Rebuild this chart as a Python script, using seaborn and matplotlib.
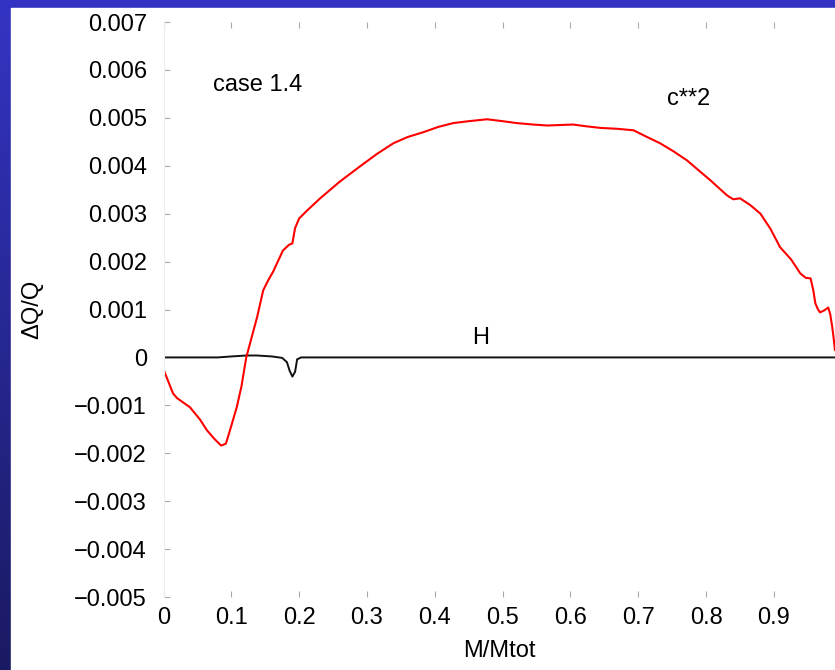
import numpy as np
import pandas as pd
import matplotlib
matplotlib.use("Agg")
import matplotlib.pyplot as plt
import seaborn as sns
from matplotlib.patches import Rectangle

# ---- data ----
c2_x = [0.0, 0.014, 0.02, 0.039, 0.054, 0.064, 0.075, 0.085, 0.092, 0.098, 0.108, 0.115,
        0.122, 0.13, 0.138, 0.147, 0.154, 0.162, 0.176, 0.185, 0.19, 0.194, 0.2, 0.212,
        0.231, 0.26, 0.29, 0.315, 0.339, 0.36, 0.383, 0.405, 0.427, 0.45, 0.477, 0.5,
        0.521, 0.545, 0.566, 0.585, 0.604, 0.625, 0.644, 0.67, 0.693, 0.71, 0.732, 0.752,
        0.772, 0.791, 0.806, 0.82, 0.831, 0.84, 0.85, 0.865, 0.88, 0.895, 0.909, 0.925,
        0.939, 0.947, 0.954, 0.958, 0.961, 0.965, 0.968, 0.974, 0.98, 0.983, 0.986, 0.988, 0.99]
c2_y = [-0.00025, -0.00075, -0.00085, -0.00104, -0.0013, -0.00152, -0.0017, -0.00184, -0.0018, -0.00152, -0.00104, -0.0006,
        0.0, 0.00042, 0.00084, 0.0014, 0.0016, 0.0018, 0.00223, 0.00235, 0.00238, 0.0027, 0.0029, 0.00307,
        0.00332, 0.00367, 0.00399, 0.00425, 0.00447, 0.0046, 0.0047, 0.00481, 0.00489, 0.00493, 0.00497, 0.00493,
        0.00489, 0.00486, 0.00484, 0.00485, 0.00486, 0.00482, 0.00479, 0.00477, 0.00474, 0.00462, 0.00447, 0.0043,
        0.00411, 0.00388, 0.0037, 0.00352, 0.00338, 0.0033, 0.00332, 0.00318, 0.003, 0.00268, 0.0023, 0.00205,
        0.00175, 0.00166, 0.00165, 0.0014, 0.00113, 0.001, 0.00094, 0.00098, 0.00104, 0.0009, 0.00063, 0.0004, 0.00015]

h_x = [0.0, 0.08, 0.1, 0.122, 0.138, 0.16, 0.175, 0.182, 0.186, 0.19, 0.194, 0.197, 0.203, 0.3, 0.99]
h_y = [0.0, 0.0, 0.00002, 0.00004, 0.00004, 0.00002, -0.00001, -0.0001, -0.00028, -0.0004, -0.0003, -0.00004, 0.0, 0.0, 0.0]

x_ticks = [0.0, 0.1, 0.2, 0.3, 0.4, 0.5, 0.6, 0.7, 0.8, 0.9]
x_labels = ["0", "0.1", "0.2", "0.3", "0.4", "0.5", "0.6", "0.7", "0.8", "0.9"]
y_ticks = [-0.005, -0.004, -0.003, -0.002, -0.001, 0.0, 0.001, 0.002, 0.003, 0.004, 0.005, 0.006, 0.007]
y_labels = ["\u22120.005", "\u22120.004", "\u22120.003", "\u22120.002", "\u22120.001", "0",
            "0.001", "0.002", "0.003", "0.004", "0.005", "0.006", "0.007"]

sns.set_theme(style="white")
plt.rcParams["font.family"] = ["Liberation Sans", "DejaVu Sans"]

FS = 17
W, H = 835, 670
fig = plt.figure(figsize=(W / 100, H / 100), dpi=100)

# slide background: blue gradient with white panel
bg = fig.add_axes([0, 0, 1, 1], zorder=-10)
top = np.array([0x34, 0x34, 0xC4]) / 255
bot = np.array([0x1A, 0x1A, 0x62]) / 255
t = np.linspace(0, 1, 256)[:, None, None]
grad = (top[None, None, :] * (1 - t) + bot[None, None, :] * t) * np.ones((1, 2, 1))
bg.imshow(grad, aspect="auto", extent=[0, 1, 0, 1])
bg.add_patch(Rectangle((11 / W, 0), 1, 1 - 8 / H, color="white", transform=bg.transAxes))
bg.set_xlim(0, 1); bg.set_ylim(0, 1)
bg.axis("off")

ax = fig.add_axes([163.5 / W, 1 - 597 / H, (W - 163.5) / W, (597 - 22) / H])
ax.set_facecolor("none")

df_c2 = pd.DataFrame({"x": c2_x, "y": c2_y})
df_h = pd.DataFrame({"x": h_x, "y": h_y})
sns.lineplot(data=df_h, x="x", y="y", ax=ax, color="#111111", linewidth=1.4, sort=False)
sns.lineplot(data=df_c2, x="x", y="y", ax=ax, color="#ff0000", linewidth=1.5, sort=False)

ax.set_xlim(0, 0.99)
ax.set_ylim(-0.005, 0.007)
ax.set_xticks(x_ticks)
ax.set_xticklabels(x_labels)
ax.set_yticks(y_ticks)
ax.set_yticklabels(y_labels)
ax.tick_params(axis="both", which="both", direction="in", length=4, width=0.8,
               color="#aaaaaa", labelsize=FS, labelcolor="black")
ax.tick_params(axis="x", top=True, bottom=True, pad=7)
ax.tick_params(axis="y", left=True, right=False, pad=12)
for s in ["top", "right", "bottom"]:
    ax.spines[s].set_visible(False)
ax.spines["left"].set_color("#eeeeee")
ax.spines["left"].set_linewidth(0.8)

ax.set_xlabel("M/Mtot", fontsize=FS, color="black", labelpad=8)
ax.set_ylabel("\u0394Q/Q", fontsize=FS, color="black", labelpad=22)

ax.text(0.073, 0.00568, "case 1.4", fontsize=FS, ha="left", va="center", color="black")
ax.text(0.742, 0.0054, "c**2", fontsize=FS, ha="left", va="center", color="black")
ax.text(0.467, 0.0004, "H", fontsize=FS, ha="center", va="center", color="black")

fig.savefig("out.png", dpi=100)
